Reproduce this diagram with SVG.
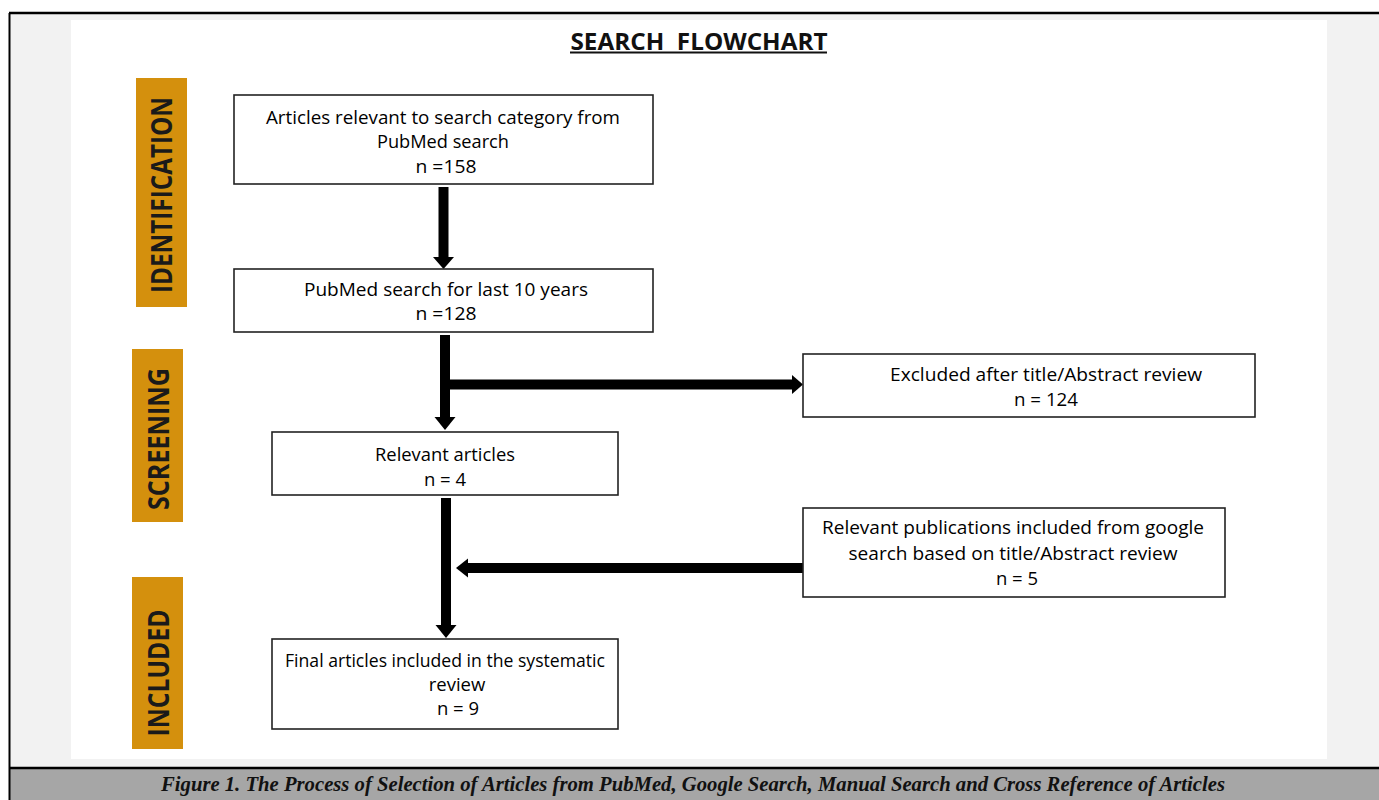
<svg xmlns="http://www.w3.org/2000/svg" width="1379" height="800" viewBox="0 0 1379 800">
<defs>
<style>
.box{fill:#ffffff;stroke:#222222;stroke-width:1.6}
.t{font-family:"Open Sans","Liberation Sans",sans-serif;font-size:18.5px;font-weight:500;fill:#000000;text-anchor:middle}
.lab{fill:#d4900d}
.lt{font-family:"Open Sans","Liberation Sans",sans-serif;font-weight:bold;font-size:29px;fill:#1a1a1a;text-anchor:middle}
.sh{stroke:#000000;stroke-width:10;fill:none}
.hd{fill:#000000}
</style>
</defs>
<rect x="0" y="0" width="1379" height="800" fill="#ffffff"/>
<rect x="10" y="14" width="1369" height="754" fill="#f2f2f2"/>
<rect x="71" y="20" width="1256" height="739" fill="#ffffff"/>
<rect x="10" y="768" width="1369" height="32" fill="#a6a6a6"/>
<line x1="9" y1="13" x2="1379" y2="13" stroke="#000" stroke-width="2.5"/>
<line x1="9.5" y1="13" x2="9.5" y2="800" stroke="#000" stroke-width="2"/>
<line x1="9" y1="768" x2="1379" y2="768" stroke="#000" stroke-width="2.5"/>

<g id="title">
<text x="699" y="50" font-family="'Open Sans','Liberation Sans',sans-serif" font-weight="bold" font-size="23" fill="#111" text-anchor="middle" textLength="257" lengthAdjust="spacingAndGlyphs" xml:space="preserve">SEARCH  FLOWCHART</text>
<line x1="570" y1="52.5" x2="827" y2="52.5" stroke="#111" stroke-width="2"/>
</g>

<g id="label-identification">
<rect class="lab" x="136" y="78" width="51" height="229"/>
<text class="lt" transform="translate(172,195) rotate(-90)" textLength="196" lengthAdjust="spacingAndGlyphs">IDENTIFICATION</text>
</g>
<g id="label-screening">
<rect class="lab" x="132" y="349" width="51" height="173"/>
<text class="lt" transform="translate(169,439) rotate(-90)" textLength="142" lengthAdjust="spacingAndGlyphs">SCREENING</text>
</g>
<g id="label-included">
<rect class="lab" x="132" y="577" width="51" height="172"/>
<text class="lt" transform="translate(169,673) rotate(-90)" textLength="127" lengthAdjust="spacingAndGlyphs">INCLUDED</text>
</g>

<g id="connectors">
<line class="sh" x1="443.5" y1="187" x2="443.5" y2="259"/>
<polygon class="hd" points="433,257 454,257 443.5,269"/>
<line class="sh" x1="445" y1="335" x2="445" y2="419"/>
<polygon class="hd" points="434.5,417 455.5,417 445,430"/>
<line class="sh" x1="445" y1="384.5" x2="794" y2="384.5" stroke-width="9"/>
<polygon class="hd" points="792,375 792,394 803,384.5"/>
<line class="sh" x1="446" y1="498" x2="446" y2="627"/>
<polygon class="hd" points="435.5,625 456.5,625 446,638"/>
<line class="sh" x1="466" y1="568" x2="806" y2="568" stroke-width="9"/>
<polygon class="hd" points="468,558.5 468,577.5 456,568"/>
</g>

<g id="box-pubmed">
<rect class="box" x="234" y="95" width="419" height="89"/>
<text class="t" x="443" y="124" textLength="354" lengthAdjust="spacingAndGlyphs">Articles relevant to search category from</text>
<text class="t" x="443" y="148" textLength="132" lengthAdjust="spacingAndGlyphs">PubMed search</text>
<text class="t" x="446" y="173" textLength="61" lengthAdjust="spacingAndGlyphs">n =158</text>
</g>
<g id="box-last10">
<rect class="box" x="234" y="269" width="419" height="63"/>
<text class="t" x="446" y="296" textLength="284" lengthAdjust="spacingAndGlyphs">PubMed search for last 10 years</text>
<text class="t" x="446" y="320" textLength="61" lengthAdjust="spacingAndGlyphs">n =128</text>
</g>
<g id="box-excluded">
<rect class="box" x="803" y="354" width="452" height="63"/>
<text class="t" x="1046" y="381" textLength="312" lengthAdjust="spacingAndGlyphs">Excluded after title/Abstract review</text>
<text class="t" x="1046" y="406" textLength="64" lengthAdjust="spacingAndGlyphs">n = 124</text>
</g>
<g id="box-relevant">
<rect class="box" x="272" y="432" width="346" height="63"/>
<text class="t" x="445" y="461" textLength="140" lengthAdjust="spacingAndGlyphs">Relevant articles</text>
<text class="t" x="445" y="486">n = 4</text>
</g>
<g id="box-google">
<rect class="box" x="803" y="508" width="422" height="89"/>
<text class="t" x="1013" y="534" textLength="382" lengthAdjust="spacingAndGlyphs">Relevant publications included from google</text>
<text class="t" x="1013" y="560" textLength="329" lengthAdjust="spacingAndGlyphs">search based on title/Abstract review</text>
<text class="t" x="1017" y="585">n = 5</text>
</g>
<g id="box-final">
<rect class="box" x="272" y="639" width="346" height="90"/>
<text class="t" x="445" y="667" textLength="320" lengthAdjust="spacingAndGlyphs">Final articles included in the systematic</text>
<text class="t" x="457" y="691">review</text>
<text class="t" x="458" y="715">n = 9</text>
</g>

<g id="caption">
<text x="693" y="791" font-family="'Liberation Serif',serif" font-weight="bold" font-style="italic" font-size="20" fill="#111" text-anchor="middle" textLength="1064" lengthAdjust="spacingAndGlyphs">Figure 1. The Process of Selection of Articles from PubMed, Google Search, Manual Search and Cross Reference of Articles</text>
</g>
</svg>
